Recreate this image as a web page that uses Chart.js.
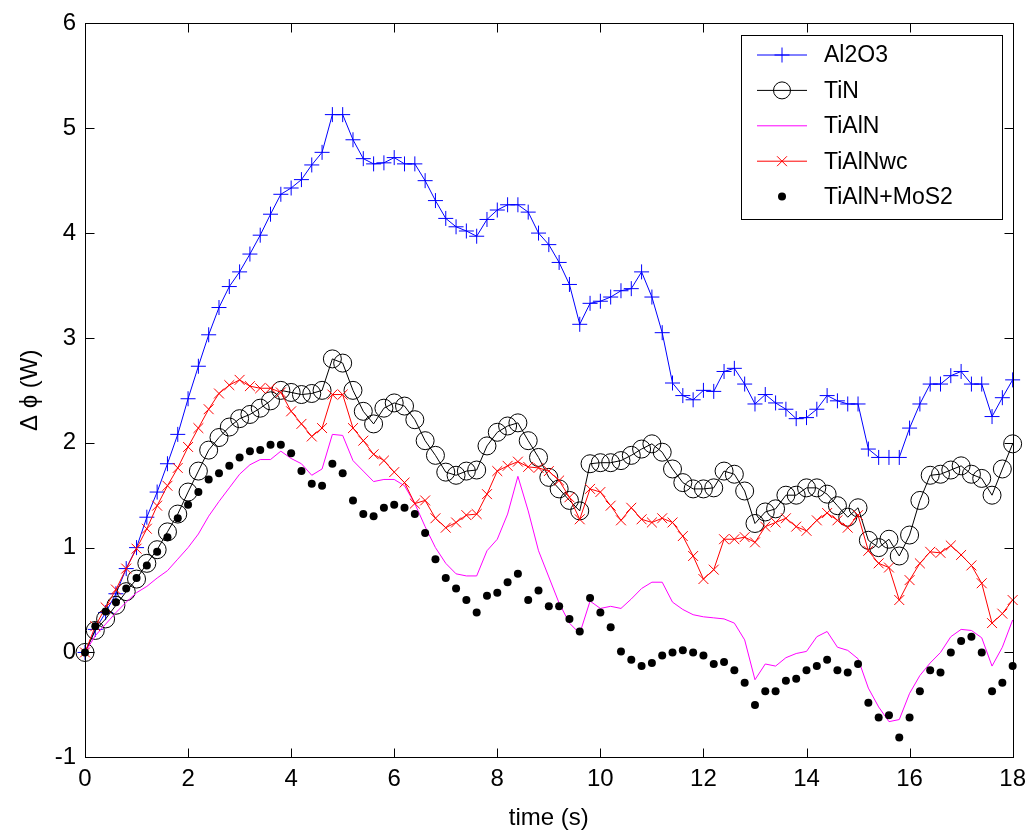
<!DOCTYPE html>
<html>
<head>
<meta charset="utf-8">
<title>Δϕ vs time</title>
<script src="https://cdn.jsdelivr.net/npm/chart.js@4.4.1/dist/chart.umd.min.js"></script>
<style>
  html, body { margin: 0; padding: 0; background: #fff; }
  #wrap { width: 1034px; height: 833px; }
</style>
</head>
<body>
<div id="wrap"><canvas id="phiChart" width="1034" height="833"></canvas></div>
<script>
// sample times (s), one reading every 0.2 s
const timeS = [
  0, 0.2, 0.4, 0.6, 0.8, 1, 1.2, 1.4, 1.6, 1.8,
  2, 2.2, 2.4, 2.6, 2.8, 3, 3.2, 3.4, 3.6, 3.8,
  4, 4.2, 4.4, 4.6, 4.8, 5, 5.2, 5.4, 5.6, 5.8,
  6, 6.2, 6.4, 6.6, 6.8, 7, 7.2, 7.4, 7.6, 7.8,
  8, 8.2, 8.4, 8.6, 8.8, 9, 9.2, 9.4, 9.6, 9.8,
  10, 10.2, 10.4, 10.6, 10.8, 11, 11.2, 11.4, 11.6, 11.8,
  12, 12.2, 12.4, 12.6, 12.8, 13, 13.2, 13.4, 13.6, 13.8,
  14, 14.2, 14.4, 14.6, 14.8, 15, 15.2, 15.4, 15.6, 15.8,
  16, 16.2, 16.4, 16.6, 16.8, 17, 17.2, 17.4, 17.6, 17.8,
  18
];

// Δϕ (W) per coating
const al2o3 = [
  0, 0.22, 0.38, 0.56, 0.80, 1.00, 1.29, 1.53, 1.80, 2.08,
  2.42, 2.73, 3.03, 3.29, 3.49, 3.63, 3.80, 3.98, 4.18, 4.37,
  4.43, 4.51, 4.65, 4.77, 5.13, 5.13, 4.89, 4.71, 4.66, 4.67,
  4.72, 4.66, 4.66, 4.50, 4.31, 4.14, 4.06, 4.02, 3.97, 4.13,
  4.22, 4.27, 4.27, 4.20, 4.00, 3.89, 3.72, 3.51, 3.13, 3.33,
  3.35, 3.39, 3.45, 3.47, 3.63, 3.39, 3.05, 2.57, 2.45, 2.41,
  2.50, 2.49, 2.68, 2.71, 2.56, 2.37, 2.46, 2.38, 2.32, 2.23,
  2.24, 2.32, 2.45, 2.40, 2.37, 2.37, 1.94, 1.86, 1.86, 1.86,
  2.14, 2.37, 2.56, 2.56, 2.64, 2.68, 2.56, 2.56, 2.25, 2.43,
  2.60
];
const tin = [
  0, 0.21, 0.32, 0.45, 0.58, 0.70, 0.85, 0.98, 1.15, 1.32,
  1.53, 1.73, 1.93, 2.05, 2.15, 2.23, 2.27, 2.33, 2.40, 2.50,
  2.48, 2.46, 2.47, 2.50, 2.80, 2.76, 2.50, 2.30, 2.18, 2.33,
  2.38, 2.35, 2.22, 2.02, 1.88, 1.72, 1.69, 1.73, 1.74, 1.97,
  2.10, 2.16, 2.19, 2.02, 1.86, 1.67, 1.56, 1.45, 1.35, 1.80,
  1.81, 1.81, 1.83, 1.88, 1.94, 1.99, 1.91, 1.75, 1.62, 1.56,
  1.56, 1.57, 1.73, 1.70, 1.54, 1.23, 1.34, 1.37, 1.50, 1.50,
  1.57, 1.57, 1.51, 1.40, 1.29, 1.38, 1.07, 1.00, 1.08, 0.92,
  1.12, 1.45, 1.69, 1.70, 1.74, 1.78, 1.70, 1.66, 1.50, 1.75,
  1.99
];
const tialn = [
  0, 0.16, 0.27, 0.38, 0.48, 0.57, 0.63, 0.71, 0.78, 0.89,
  1.00, 1.13, 1.30, 1.44, 1.57, 1.70, 1.79, 1.84, 1.84, 1.92,
  1.85, 1.80, 1.69, 1.75, 2.08, 2.07, 1.83, 1.73, 1.63, 1.65,
  1.65, 1.59, 1.42, 1.20, 1.00, 0.85, 0.75, 0.73, 0.73, 0.97,
  1.08, 1.32, 1.68, 1.35, 0.97, 0.72, 0.47, 0.28, 0.18, 0.49,
  0.42, 0.44, 0.42, 0.51, 0.61, 0.67, 0.67, 0.48, 0.41, 0.36,
  0.34, 0.33, 0.32, 0.28, 0.12, -0.26, -0.11, -0.13, -0.05, -0.01,
  0.01, 0.15, 0.20, 0.05, 0.02, -0.06, -0.34, -0.52, -0.66, -0.64,
  -0.39, -0.22, -0.10, 0.00, 0.15, 0.22, 0.21, 0.14, -0.13, 0.05,
  0.31
];
const tialnWc = [
  0, 0.25, 0.43, 0.60, 0.80, 0.99, 1.18, 1.40, 1.59, 1.76,
  1.96, 2.14, 2.32, 2.47, 2.55, 2.60, 2.54, 2.52, 2.52, 2.48,
  2.30, 2.18, 2.06, 2.14, 2.46, 2.46, 2.14, 2.02, 1.89, 1.83,
  1.72, 1.62, 1.42, 1.45, 1.28, 1.19, 1.24, 1.31, 1.32, 1.51,
  1.73, 1.78, 1.82, 1.77, 1.76, 1.73, 1.64, 1.48, 1.27, 1.56,
  1.53, 1.40, 1.26, 1.38, 1.27, 1.24, 1.28, 1.24, 1.11, 0.92,
  0.70, 0.79, 1.08, 1.08, 1.10, 1.05, 1.20, 1.24, 1.28, 1.20,
  1.16, 1.26, 1.33, 1.26, 1.19, 1.31, 0.97, 0.85, 0.81, 0.50,
  0.69, 0.85, 0.96, 0.95, 1.02, 0.93, 0.83, 0.66, 0.28, 0.37,
  0.50
];
const tialnMos2 = [
  0, 0.25, 0.39, 0.48, 0.61, 0.71, 0.83, 0.96, 1.10, 1.28,
  1.41, 1.53, 1.65, 1.71, 1.78, 1.86, 1.92, 1.93, 1.98, 1.98,
  1.90, 1.73, 1.61, 1.59, 1.80, 1.71, 1.45, 1.32, 1.30, 1.38,
  1.41, 1.38, 1.32, 1.14, 0.89, 0.71, 0.61, 0.50, 0.38, 0.54,
  0.57, 0.67, 0.75, 0.50, 0.59, 0.44, 0.44, 0.32, 0.20, 0.52,
  0.38, 0.24, 0.01, -0.07, -0.13, -0.10, -0.03, 0.00, 0.02, 0.00,
  -0.03, -0.11, -0.09, -0.17, -0.29, -0.50, -0.37, -0.37, -0.27, -0.25,
  -0.17, -0.13, -0.07, -0.17, -0.19, -0.11, -0.48, -0.62, -0.60, -0.81,
  -0.62, -0.37, -0.17, -0.19, 0.00, 0.11, 0.15, 0.00, -0.37, -0.29,
  -0.13
];

const xTicks = [0, 2, 4, 6, 8, 10, 12, 14, 16, 18];
const yTicks = [-1, 0, 1, 2, 3, 4, 5, 6];

const FONT = '"Liberation Sans", Arial, Helvetica, sans-serif';

function pts(values) {
  return values.map((v, i) => ({ x: timeS[i], y: v }));
}

// box around the plot, inward ticks on all four sides, and the legend
const frameAndLegend = {
  id: 'frameAndLegend',
  afterDatasetsDraw(chart) {
    const { ctx, chartArea: a, scales: { x, y } } = chart;
    const L = Math.round(a.left) + 0.5, R = Math.round(a.right) + 0.5;
    const T = Math.round(a.top) + 0.5, B = Math.round(a.bottom) + 0.5;
    const tick = 9;
    ctx.save();
    ctx.strokeStyle = '#000';
    ctx.lineWidth = 1;
    ctx.beginPath();
    xTicks.forEach(v => {
      const px = Math.round(x.getPixelForValue(v)) + 0.5;
      ctx.moveTo(px, B); ctx.lineTo(px, B - tick);
      ctx.moveTo(px, T); ctx.lineTo(px, T + tick);
    });
    yTicks.forEach(v => {
      const py = Math.round(y.getPixelForValue(v)) + 0.5;
      ctx.moveTo(L, py); ctx.lineTo(L + tick, py);
      ctx.moveTo(R, py); ctx.lineTo(R - tick, py);
    });
    ctx.stroke();
    ctx.strokeRect(L, T, R - L, B - T);

    // legend
    const box = { x: 741.5, y: 35.5, w: 261, h: 184 };
    ctx.fillStyle = '#fff';
    ctx.fillRect(box.x, box.y, box.w, box.h);
    ctx.strokeRect(box.x, box.y, box.w, box.h);
    ctx.font = '23px ' + FONT;
    ctx.textBaseline = 'middle';
    ctx.textAlign = 'left';
    chart.data.datasets.forEach((ds, i) => {
      const cy = 55 + i * 35.4;
      if (ds.showLine !== false) {
        ctx.strokeStyle = ds.borderColor;
        ctx.lineWidth = 1;
        ctx.beginPath();
        ctx.moveTo(757, cy); ctx.lineTo(807, cy);
        ctx.stroke();
      }
      if (ds.pointRadius > 0) {
        ctx.strokeStyle = ds.pointBorderColor;
        ctx.fillStyle = ds.pointBackgroundColor;
        ctx.lineWidth = ds.pointBorderWidth;
        Chart.helpers.drawPoint(ctx, {
          pointStyle: ds.pointStyle,
          radius: ds.legendRadius || ds.pointRadius,
          borderWidth: ds.pointBorderWidth,
          rotation: 0
        }, 782, cy);
      }
      ctx.fillStyle = '#000';
      ctx.fillText(ds.label, 824, cy + 1);
    });
    ctx.restore();
  }
};

const ctx = document.getElementById('phiChart').getContext('2d');
const chart = new Chart(ctx, {
  type: 'line',
  data: {
    datasets: [
      {
        label: 'Al2O3',
        data: pts(al2o3),
        borderColor: '#0000ff',
        borderWidth: 1,
        pointStyle: 'cross',
        pointRadius: 7.5,
        pointBorderColor: '#0000ff',
        pointBackgroundColor: '#0000ff',
        pointBorderWidth: 1,
        order: 5
      },
      {
        label: 'TiN',
        data: pts(tin),
        borderColor: '#000000',
        borderWidth: 1,
        pointStyle: 'circle',
        pointRadius: 9,
        legendRadius: 8.5,
        pointBorderColor: '#000000',
        pointBackgroundColor: 'rgba(0,0,0,0)',
        pointBorderWidth: 1,
        order: 4
      },
      {
        label: 'TiAlN',
        data: pts(tialn),
        borderColor: '#ff00ff',
        borderWidth: 1,
        pointRadius: 0,
        order: 3
      },
      {
        label: 'TiAlNwc',
        data: pts(tialnWc),
        borderColor: '#ff0000',
        borderWidth: 1,
        pointStyle: 'crossRot',
        pointRadius: 7,
        pointBorderColor: '#ff0000',
        pointBackgroundColor: '#ff0000',
        pointBorderWidth: 1,
        order: 2
      },
      {
        label: 'TiAlN+MoS2',
        data: pts(tialnMos2),
        showLine: false,
        borderColor: '#000000',
        pointStyle: 'circle',
        pointRadius: 4,
        pointBorderColor: '#000000',
        pointBackgroundColor: '#000000',
        pointBorderWidth: 0,
        order: 1
      }
    ]
  },
  options: {
    responsive: false,
    animation: false,
    devicePixelRatio: 1,
    clip: false,
    layout: { padding: { top: 22, right: 17.5, left: 0, bottom: 0 } },
    elements: { line: { tension: 0, fill: false } },
    plugins: {
      legend: { display: false },
      tooltip: { enabled: false }
    },
    scales: {
      x: {
        type: 'linear',
        min: 0,
        max: 18,
        afterFit: s => { s.height = 75.7; },
        afterBuildTicks: s => { s.ticks = xTicks.map(v => ({ value: v })); },
        grid: { display: false, drawTicks: false },
        border: { display: false },
        ticks: { color: '#000', padding: 8, font: { family: FONT, size: 24 } },
        title: {
          display: true,
          text: 'time (s)',
          color: '#000',
          font: { family: FONT, size: 24 },
          padding: { top: 0, bottom: 0 }
        }
      },
      y: {
        type: 'linear',
        min: -1,
        max: 6,
        afterFit: s => { s.width = 85; },
        afterBuildTicks: s => { s.ticks = yTicks.map(v => ({ value: v })); },
        grid: { display: false, drawTicks: false },
        border: { display: false },
        ticks: { color: '#000', padding: 9, font: { family: FONT, size: 24 } },
        title: {
          display: true,
          text: 'Δ ϕ (W)',
          color: '#000',
          font: { family: FONT, size: 24 },
          padding: { top: 16, bottom: 0 }
        }
      }
    }
  },
  plugins: [frameAndLegend]
});
</script>
</body>
</html>
